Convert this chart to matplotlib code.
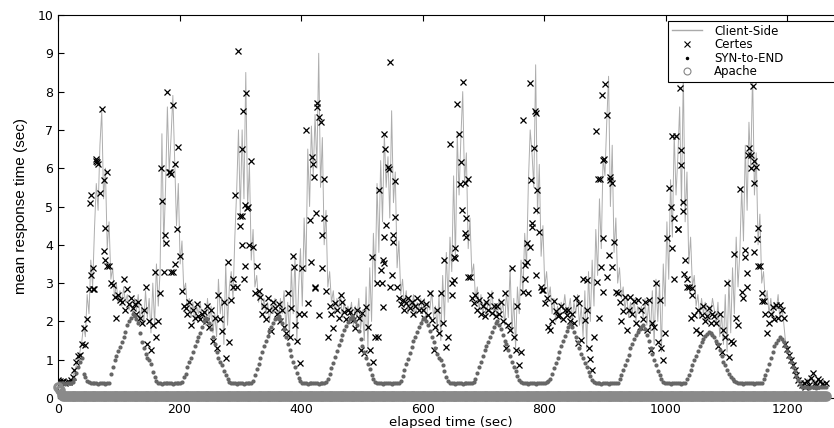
import numpy as np
import matplotlib.pyplot as plt
from matplotlib.lines import Line2D

# one reading every 3 s, 0 .. 1263 s
t = np.arange(0, 1266, 3)

# Client-Side mean response time (sec), one row per 60 s
client_side = [
    0.45, 0.42, 0.40, 0.44, 0.41, 0.43, 0.40, 0.46, 0.52, 0.68, 0.85, 1.05, 1.2, 1.45, 1.9, 1.6, 2.7, 2.2, 3.6, 2.9,
    4.4, 5.6, 4.9, 6.6, 7.5, 5.2, 6.0, 3.9, 4.6, 3.1, 3.4, 2.6, 3.0, 2.5, 2.8, 2.4, 2.9, 2.5, 2.7, 2.3,
    2.5, 2.2, 2.6, 2.3, 2.7, 2.0, 2.4, 1.9, 2.8, 2.1, 2.6, 1.7, 3.0, 1.9, 3.5, 2.4, 3.3, 6.9, 4.0, 5.5,
    7.6, 5.9, 6.8, 7.9, 6.2, 4.5, 5.6, 3.5, 4.1, 2.8, 3.0, 2.3, 2.6, 2.1, 2.5, 2.0, 2.4, 2.2, 2.5, 2.1,
    2.3, 1.9, 2.6, 2.0, 2.4, 1.7, 2.2, 1.6, 3.1, 2.2, 2.6, 1.4, 3.5, 1.9, 2.9, 3.3, 2.6, 4.2, 5.4, 7.0,
    4.8, 7.0, 5.2, 8.5, 5.0, 6.1, 3.6, 4.4, 2.9, 3.2, 2.5, 2.8, 2.3, 2.6, 2.2, 2.5, 2.0, 2.4, 2.2, 2.6,
    2.3, 2.0, 2.6, 2.2, 2.8, 1.8, 2.5, 1.6, 3.4, 2.2, 3.7, 1.5, 2.9, 3.9, 2.4, 4.7, 3.3, 6.5, 5.0, 7.1,
    5.8, 7.4, 6.0, 9.0, 5.5, 6.8, 4.0, 4.9, 2.9, 3.3, 2.5, 2.8, 2.2, 2.6, 2.3, 2.7, 2.1, 2.5, 2.2, 2.4,
    2.2, 2.5, 1.9, 2.4, 2.1, 2.6, 1.8, 2.3, 1.5, 2.9, 1.3, 3.4, 2.0, 4.3, 3.0, 5.6, 3.8, 6.2, 4.6, 6.9,
    5.5, 6.3, 4.7, 7.5, 5.1, 5.9, 3.4, 4.1, 2.7, 3.1, 2.4, 2.8, 2.2, 2.6, 2.3, 2.7, 2.1, 2.5, 2.3, 2.6,
    2.2, 2.6, 2.0, 2.5, 2.3, 2.8, 2.1, 2.4, 1.8, 2.7, 1.5, 3.2, 2.0, 3.8, 2.5, 4.2, 3.3, 5.8, 3.6, 6.9,
    5.3, 6.8, 8.0, 5.6, 6.4, 3.9, 4.7, 3.2, 3.5, 2.6, 2.9, 2.3, 2.7, 2.2, 2.5, 2.1, 2.6, 2.3, 2.8, 2.2,
    2.4, 2.1, 2.6, 2.2, 2.5, 1.9, 2.8, 2.1, 3.4, 1.7, 2.6, 1.3, 2.9, 2.2, 3.6, 2.7, 4.3, 3.4, 5.6, 7.0,
    6.4, 5.5, 8.7, 4.8, 6.1, 3.7, 4.5, 2.9, 3.3, 2.6, 2.9, 2.2, 2.6, 2.0, 2.4, 2.1, 2.5, 2.3, 2.7, 2.2,
    2.3, 2.6, 2.0, 2.5, 2.2, 2.7, 1.9, 2.4, 1.6, 2.8, 1.3, 3.3, 2.0, 3.6, 2.4, 4.4, 3.2, 5.2, 3.9, 6.3,
    5.8, 7.2, 8.4, 5.0, 6.6, 3.8, 4.7, 3.0, 3.4, 2.6, 2.9, 2.3, 2.7, 2.1, 2.5, 2.2, 2.6, 2.0, 2.4, 2.2,
    2.4, 2.1, 2.6, 1.9, 2.5, 1.7, 2.8, 1.4, 3.1, 2.0, 3.0, 1.2, 3.5, 2.4, 4.6, 3.1, 5.7, 4.2, 6.9, 5.3,
    6.3, 7.6, 5.0, 8.5, 4.6, 5.9, 3.5, 4.2, 2.9, 3.2, 2.4, 2.7, 2.1, 2.6, 2.2, 2.5, 2.0, 2.4, 2.2, 2.6,
    2.3, 1.9, 2.5, 1.6, 2.2, 1.4, 2.7, 1.2, 3.1, 1.7, 3.4, 2.2, 4.2, 2.9, 3.8, 5.5, 4.1, 6.6, 4.9, 7.2,
    6.0, 8.5, 5.3, 6.4, 4.0, 4.8, 3.0, 3.3, 2.5, 2.8, 2.2, 2.6, 2.1, 2.5, 2.3, 2.7, 2.0, 2.4, 2.0, 1.5,
    1.3, 1.15, 1.0, 0.88, 0.75, 0.62, 0.5, 0.42, 0.38, 0.45, 0.35, 0.5, 0.4, 0.55, 0.38, 0.48, 0.36, 0.52, 0.4, 0.45, 0.38, 0.42,
]

# Certes estimate, same sample times
certes = [
    0.48, 0.44, 0.42, 0.45, 0.40, 0.43, 0.41, 0.47, 0.55, 0.72, 0.95, 1.1, 1.12, 1.4, 1.82, 1.38, 2.05, 2.85, 3.2, 2.85,
    2.85, 6.2, 6.1, 5.35, 7.55, 5.7, 4.45, 5.9, 3.45, 3.0, 2.95, 2.65, 2.1, 2.7, 2.55, 2.5, 3.1, 2.3, 2.85, 2.45,
    2.6, 2.35, 2.45, 2.2, 2.5, 2.1, 1.95, 2.3, 2.9, 1.4, 2.0, 1.25, 1.9, 3.3, 1.6, 2.0, 2.75, 5.15, 3.3, 4.05,
    8.0, 5.9, 5.85, 7.65, 6.1, 4.4, 6.55, 3.7, 2.8, 2.4, 2.35, 2.2, 2.5, 1.9, 2.3, 2.1, 2.45, 2.15, 2.05, 2.2,
    2.25, 2.0, 2.4, 1.85, 2.3, 1.5, 2.1, 1.3, 2.7, 2.05, 1.75, 2.5, 1.05, 3.55, 1.45, 2.55, 3.1, 5.3, 2.9, 9.05,
    4.75, 6.5, 3.1, 7.97, 5.0, 4.0, 6.2, 3.95, 2.75, 3.45, 2.8, 2.65, 2.2, 2.4, 2.05, 2.6, 2.3, 1.75, 2.5, 2.35,
    2.2, 2.45, 2.0, 2.3, 1.85, 1.7, 2.75, 1.6, 2.35, 3.7, 1.9, 1.5, 2.2, 0.91, 3.4, 2.2, 7.0, 2.47, 4.65, 3.55,
    6.11, 2.9, 7.69, 7.34, 7.2, 4.25, 5.72, 2.8, 1.6, 2.4, 2.2, 1.82, 2.48, 2.3, 2.1, 2.69, 2.5, 2.25, 2.05, 2.3,
    2.25, 2.13, 2.04, 1.82, 2.3, 2.1, 1.25, 2.21, 1.17, 2.38, 1.86, 1.25, 3.69, 0.95, 1.6, 3.0, 5.43, 3.35, 2.38, 6.88,
    4.52, 6.04, 8.76, 3.21, 4.26, 5.66, 2.9, 2.6, 2.45, 2.55, 2.3, 2.47, 2.6, 2.35, 2.5, 2.2, 2.4, 2.6, 2.3, 2.51,
    2.3, 2.1, 2.45, 2.17, 2.73, 2.04, 1.25, 1.86, 2.3, 1.69, 2.73, 1.95, 3.6, 1.34, 1.6, 6.62, 2.99, 3.69, 3.65, 7.68,
    6.89, 6.17, 8.26, 5.62, 4.69, 5.71, 3.17, 2.6, 2.47, 2.7, 2.3, 2.55, 2.2, 2.4, 2.15, 2.5, 2.3, 2.69, 2.21, 2.4,
    2.13, 2.4, 2.2, 2.5, 2.0, 2.73, 1.3, 1.91, 1.78, 3.39, 1.6, 1.26, 2.39, 0.86, 1.21, 2.77, 3.12, 4.04, 2.73, 8.23,
    4.56, 6.52, 7.43, 5.43, 4.34, 2.9, 2.82, 2.47, 2.6, 1.86, 1.78, 2.0, 2.52, 2.26, 2.13, 2.17, 2.4, 2.05, 2.3, 2.17,
    2.3, 2.0, 2.2, 1.95, 2.6, 1.43, 2.47, 1.52, 3.12, 2.04, 2.3, 1.3, 1.03, 0.74, 1.6, 6.97, 5.73, 2.08, 3.43, 6.21,
    8.2, 7.39, 3.73, 5.76, 3.43, 4.08, 2.77, 2.73, 2.5, 2.0, 2.26, 2.64, 1.78, 2.3, 2.64, 2.2, 2.52, 1.95, 2.56, 1.86,
    2.3, 2.05, 2.5, 1.78, 2.55, 1.25, 1.95, 1.86, 2.99, 1.47, 2.55, 1.3, 0.99, 1.69, 4.17, 5.47, 4.98, 3.91, 4.69, 6.84,
    4.4, 8.09, 6.08, 5.12, 3.6, 3.12, 2.9, 2.08, 2.69, 2.17, 1.78, 2.3, 1.69, 2.17, 2.4, 2.0, 2.13, 2.35, 1.95, 2.2,
    2.13, 1.95, 1.35, 2.2, 1.21, 1.78, 1.6, 2.99, 1.08, 1.5, 1.43, 3.75, 2.1, 1.9, 5.45, 2.77, 2.6, 3.87, 2.9, 6.52,
    6.35, 8.15, 6.2, 6.04, 4.43, 3.45, 2.75, 2.52, 2.2, 1.69, 1.95, 2.2, 2.38, 2.05, 2.43, 2.08, 2.43, 2.3, 2.08, 1.4,
    1.28, 1.12, 0.98, 0.85, 0.72, 0.6, 0.48, 0.38, 0.33, 0.4, 0.3, 0.45, 0.35, 0.52, 0.64, 0.38, 0.32, 0.5, 0.44, 0.36, 0.33, 0.4,
]

# extra Certes crosses around the peaks (time, value)
certes_extra_t = [53, 55, 57, 62, 64, 76, 78, 80,
                  170, 176, 184, 186, 190, 193,
                  288, 299, 302, 303, 304, 307, 307, 311,
                  388, 418, 421, 423, 425, 427, 429, 434, 437,
                  527, 533, 535, 536, 536, 538, 544, 546, 552, 555,
                  648, 651, 653, 662, 665, 670, 672, 675,
                  766, 769, 771, 776, 778, 780, 785, 787, 787, 796,
                  870, 887, 892, 895, 897, 897, 899, 903, 909, 912,
                  1011, 1013, 1021, 1026, 1029, 1030, 1035, 1043,
                  1131, 1134, 1136, 1140, 1145, 1145, 1150, 1152, 1158]
certes_extra_v = [5.1, 5.3, 3.4, 6.25, 6.15, 3.85, 3.6, 3.45,
                  6.0, 4.25, 5.9, 3.3, 3.3, 3.5,
                  2.9, 4.5, 4.0, 4.75, 7.5, 5.05, 3.45, 4.95,
                  3.41, 6.28, 5.76, 2.86, 4.82, 7.6, 2.17, 3.39, 4.69,
                  1.6, 3.0, 3.6, 4.21, 3.52, 6.5, 5.97, 2.9, 4.08, 4.73,
                  2.69, 3.08, 3.91, 5.6, 4.91, 4.3, 4.21, 3.17,
                  7.27, 3.47, 3.56, 3.95, 5.69, 4.47, 7.5, 4.91, 3.21, 2.82,
                  3.08, 3.04, 5.72, 7.91, 4.17, 2.77, 6.23, 3.17, 5.69, 5.62,
                  6.85, 3.12, 4.4, 6.48, 4.87, 3.25, 2.9, 2.86,
                  3.69, 3.27, 6.35, 6.0, 5.62, 3.82, 4.15, 3.45, 2.52]

# SYN-to-END
syn_to_end = [
    0.40, 0.38, 0.39, 0.40, 0.37, 0.39, 0.38, 0.40, 0.42, 0.50, 0.65, 0.80, 0.95, 1.05, 0.62, 0.55, 0.45, 0.41, 0.40, 0.39,
    0.38, 0.39, 0.37, 0.38, 0.40, 0.38, 0.37, 0.39, 0.40, 0.62, 0.82, 1.0, 1.1, 1.22, 1.32, 1.45, 1.6, 1.72, 1.9, 2.0,
    2.1, 2.2, 2.15, 2.05, 1.95, 1.7, 1.45, 1.3, 1.15, 1.05, 1.0, 0.88, 0.68, 0.55, 0.45, 0.40, 0.38, 0.37, 0.38, 0.39,
    0.38, 0.40, 0.39, 0.37, 0.38, 0.39, 0.40, 0.38, 0.42, 0.55, 0.62, 0.8, 0.95, 1.05, 1.2, 1.35, 1.5, 1.6, 1.7, 1.85,
    2.0, 2.1, 2.05, 1.95, 1.8, 1.6, 1.4, 1.2, 1.05, 0.95, 0.85, 0.7, 0.6, 0.5, 0.42, 0.39, 0.38, 0.40, 0.37, 0.39,
    0.38, 0.40, 0.37, 0.39, 0.38, 0.40, 0.39, 0.45, 0.6, 0.75, 0.9, 1.05, 1.2, 1.35, 1.5, 1.62, 1.75, 1.85, 1.95, 2.05,
    2.1, 2.15, 2.05, 1.95, 1.8, 1.6, 1.42, 1.25, 1.1, 0.95, 0.8, 0.65, 0.52, 0.44, 0.40, 0.38, 0.39, 0.37, 0.38, 0.40,
    0.38, 0.40, 0.39, 0.37, 0.39, 0.40, 0.38, 0.42, 0.5, 0.62, 0.78, 0.92, 1.08, 1.22, 1.38, 1.52, 1.65, 1.78, 1.88, 1.98,
    2.05, 2.15, 2.1, 2.0, 1.9, 1.75, 1.55, 1.35, 1.2, 1.05, 0.9, 0.75, 0.6, 0.5, 0.42, 0.39, 0.38, 0.40, 0.37, 0.39,
    0.38, 0.40, 0.39, 0.37, 0.38, 0.40, 0.39, 0.38, 0.45, 0.58, 0.72, 0.88, 1.02, 1.18, 1.32, 1.48, 1.6, 1.72, 1.85, 1.95,
    2.05, 2.1, 2.0, 1.9, 1.75, 1.6, 1.45, 1.3, 1.15, 1.05, 1.0, 0.85, 0.7, 0.55, 0.45, 0.40, 0.38, 0.39, 0.37, 0.40,
    0.38, 0.40, 0.37, 0.39, 0.38, 0.40, 0.39, 0.38, 0.41, 0.5, 0.65, 0.8, 0.95, 1.1, 1.25, 1.35, 1.45, 1.6, 1.72, 1.85,
    1.95, 2.0, 1.9, 1.8, 1.65, 1.5, 1.4, 1.25, 1.1, 0.95, 0.82, 0.7, 0.58, 0.48, 0.42, 0.39, 0.38, 0.40, 0.37, 0.39,
    0.38, 0.40, 0.37, 0.39, 0.38, 0.40, 0.39, 0.38, 0.41, 0.44, 0.5, 0.62, 0.78, 0.92, 1.05, 1.2, 1.35, 1.5, 1.62, 1.75,
    1.85, 1.92, 1.85, 1.72, 1.6, 1.45, 1.3, 1.15, 1.05, 0.92, 0.8, 0.68, 0.58, 0.48, 0.42, 0.39, 0.38, 0.40, 0.37, 0.39,
    0.38, 0.40, 0.37, 0.39, 0.38, 0.40, 0.39, 0.38, 0.5, 0.6, 0.72, 0.85, 1.0, 1.12, 1.3, 1.42, 1.55, 1.65, 1.72, 1.8,
    1.85, 1.9, 1.8, 1.65, 1.5, 1.3, 1.15, 1.0, 0.85, 0.7, 0.6, 0.5, 0.42, 0.40, 0.38, 0.39, 0.37, 0.40, 0.38, 0.39,
    0.38, 0.40, 0.37, 0.39, 0.38, 0.5, 0.6, 0.72, 0.85, 0.98, 1.1, 1.22, 1.35, 1.45, 1.55, 1.62, 1.68, 1.72, 1.7, 1.65,
    1.6, 1.5, 1.4, 1.25, 1.1, 0.95, 0.85, 0.72, 0.62, 0.55, 0.5, 0.45, 0.42, 0.40, 0.38, 0.39, 0.37, 0.40, 0.38, 0.39,
    0.38, 0.40, 0.37, 0.39, 0.38, 0.40, 0.39, 0.5, 0.6, 0.73, 0.9, 1.05, 1.2, 1.35, 1.43, 1.52, 1.6, 1.55, 1.45, 1.35,
    1.22, 1.08, 0.95, 0.82, 0.7, 0.58, 0.46, 0.36, 0.30, 0.28, 0.29, 0.28, 0.27, 0.29, 0.28, 0.28, 0.27, 0.29, 0.28, 0.28, 0.29, 0.28,
]

# Apache (server log)
apache = [
    0.30, 0.20, 0.08, 0.05, 0.06, 0.04, 0.05, 0.06, 0.05, 0.04, 0.05, 0.06, 0.05, 0.05, 0.04, 0.06, 0.05, 0.05, 0.06, 0.04,
    0.05, 0.06, 0.05, 0.04, 0.05, 0.05, 0.06, 0.04, 0.05, 0.06, 0.05, 0.05, 0.04, 0.05, 0.06, 0.05, 0.04, 0.05, 0.05, 0.06,
    0.04, 0.05, 0.05, 0.06, 0.05, 0.04, 0.05, 0.06, 0.05, 0.05, 0.04, 0.06, 0.05, 0.05, 0.06, 0.04, 0.05, 0.05, 0.06, 0.05,
    0.05, 0.04, 0.06, 0.05, 0.05, 0.06, 0.05, 0.04, 0.05, 0.05, 0.06, 0.05, 0.04, 0.05, 0.06, 0.05, 0.05, 0.04, 0.05, 0.06,
    0.06, 0.05, 0.04, 0.05, 0.06, 0.05, 0.05, 0.04, 0.06, 0.05, 0.05, 0.06, 0.04, 0.05, 0.05, 0.06, 0.05, 0.04, 0.05, 0.05,
    0.05, 0.05, 0.06, 0.04, 0.05, 0.06, 0.05, 0.05, 0.04, 0.05, 0.06, 0.05, 0.05, 0.04, 0.06, 0.05, 0.05, 0.06, 0.04, 0.05,
    0.04, 0.06, 0.05, 0.05, 0.04, 0.05, 0.06, 0.05, 0.05, 0.06, 0.04, 0.05, 0.05, 0.06, 0.05, 0.04, 0.05, 0.05, 0.06, 0.05,
    0.05, 0.05, 0.04, 0.06, 0.05, 0.05, 0.06, 0.04, 0.05, 0.05, 0.05, 0.06, 0.05, 0.04, 0.05, 0.06, 0.05, 0.05, 0.04, 0.05,
    0.06, 0.04, 0.05, 0.05, 0.06, 0.05, 0.04, 0.05, 0.06, 0.05, 0.05, 0.04, 0.05, 0.06, 0.05, 0.05, 0.04, 0.06, 0.05, 0.05,
    0.05, 0.06, 0.05, 0.04, 0.05, 0.05, 0.06, 0.05, 0.04, 0.05, 0.06, 0.05, 0.05, 0.04, 0.05, 0.06, 0.05, 0.05, 0.06, 0.04,
    0.05, 0.05, 0.06, 0.05, 0.04, 0.05, 0.05, 0.06, 0.04, 0.05, 0.05, 0.06, 0.05, 0.05, 0.04, 0.05, 0.06, 0.05, 0.04, 0.05,
    0.06, 0.05, 0.05, 0.04, 0.05, 0.06, 0.05, 0.05, 0.04, 0.06, 0.05, 0.05, 0.06, 0.04, 0.05, 0.05, 0.05, 0.06, 0.05, 0.04,
    0.05, 0.04, 0.05, 0.06, 0.05, 0.05, 0.04, 0.05, 0.06, 0.05, 0.05, 0.06, 0.04, 0.05, 0.05, 0.06, 0.05, 0.04, 0.05, 0.06,
    0.05, 0.06, 0.05, 0.05, 0.04, 0.05, 0.06, 0.05, 0.04, 0.05, 0.05, 0.06, 0.05, 0.05, 0.04, 0.05, 0.06, 0.05, 0.05, 0.04,
    0.04, 0.05, 0.06, 0.05, 0.05, 0.04, 0.05, 0.06, 0.05, 0.05, 0.06, 0.04, 0.05, 0.05, 0.06, 0.05, 0.04, 0.05, 0.05, 0.06,
    0.05, 0.05, 0.04, 0.06, 0.05, 0.05, 0.06, 0.05, 0.04, 0.05, 0.05, 0.06, 0.05, 0.04, 0.05, 0.06, 0.05, 0.05, 0.04, 0.05,
    0.06, 0.05, 0.05, 0.04, 0.05, 0.05, 0.06, 0.05, 0.04, 0.06, 0.05, 0.05, 0.05, 0.04, 0.06, 0.05, 0.05, 0.06, 0.04, 0.05,
    0.05, 0.04, 0.05, 0.06, 0.05, 0.05, 0.04, 0.05, 0.06, 0.05, 0.05, 0.04, 0.05, 0.06, 0.05, 0.05, 0.06, 0.04, 0.05, 0.05,
    0.05, 0.06, 0.04, 0.05, 0.05, 0.06, 0.05, 0.04, 0.05, 0.05, 0.06, 0.05, 0.05, 0.04, 0.05, 0.06, 0.05, 0.04, 0.05, 0.06,
    0.06, 0.05, 0.05, 0.04, 0.05, 0.06, 0.05, 0.05, 0.04, 0.05, 0.06, 0.05, 0.05, 0.06, 0.04, 0.05, 0.05, 0.05, 0.06, 0.05,
    0.05, 0.04, 0.05, 0.06, 0.05, 0.05, 0.04, 0.06, 0.05, 0.05, 0.05, 0.04, 0.06, 0.05, 0.05, 0.04, 0.05, 0.06, 0.05, 0.05, 0.04, 0.05,
]

series_labels = ['Client-Side', 'Certes', 'SYN-to-END', 'Apache']
x_ticks = [0, 200, 400, 600, 800, 1000, 1200]
y_ticks = list(range(0, 11))

plt.rcParams['font.family'] = 'DejaVu Sans'

fig = plt.figure(figsize=(8.34, 4.28), dpi=100)
# right spine sits just past the image edge, as in the original crop
ax = fig.add_axes([58 / 834, 30 / 428, 790 / 834, 383 / 428])

ax.plot(t, client_side, color='#adadad', lw=0.7, zorder=2)
ax.plot(t, certes, ls='none', marker='x', color='k', ms=5, mew=0.9, zorder=3)
ax.plot(certes_extra_t, certes_extra_v, ls='none', marker='x', color='k', ms=5, mew=0.9, zorder=3)
ax.plot(t, syn_to_end, ls='none', marker='o', ms=3.0, color='#666666', mec='none', zorder=4)
# the Apache circles overlap into a solid band that covers the bottom spine
ax.plot(t, apache, ls='none', marker='o', ms=5.4, mfc='none', mec='#8a8a8a', mew=2.2,
        zorder=5, clip_on=False)

ax.set_xlim(0, 1300)
ax.set_ylim(0, 10)
ax.set_xticks(x_ticks)
ax.set_yticks(y_ticks)
ax.tick_params(direction='in', top=True, right=True, length=4, width=0.8,
               labelsize=9, pad=3.5)
for sp in ax.spines.values():
    sp.set_linewidth(0.8)

ax.set_xlabel('elapsed time (sec)', fontsize=9.5)
ax.xaxis.set_label_coords(0.4975, -0.046)
ax.set_ylabel('mean response time (sec)', fontsize=11, family='Liberation Sans')
ax.yaxis.set_label_coords(-0.038, 0.5)

handles = [
    Line2D([], [], color='#aaaaaa', lw=1.0),
    Line2D([], [], ls='none', marker='x', color='k', ms=4, mew=0.8),
    Line2D([], [], ls='none', marker='.', color='k', ms=3),
    Line2D([], [], ls='none', marker='o', mfc='none', mec='#858585', ms=5, mew=0.8),
]
leg = ax.legend(handles, series_labels, loc='upper left',
                bbox_to_anchor=(668 / 834, 1 - 21 / 428, 0.25, 0),
                bbox_transform=fig.transFigure, mode='expand', borderaxespad=0,
                fancybox=False, framealpha=1, edgecolor='k', fontsize=8.5,
                handlelength=2.6, handletextpad=1.0, labelspacing=0.05, borderpad=0.3)
leg.get_frame().set_linewidth(0.8)
leg.set_zorder(6)

fig.savefig('out.png', dpi=100)
